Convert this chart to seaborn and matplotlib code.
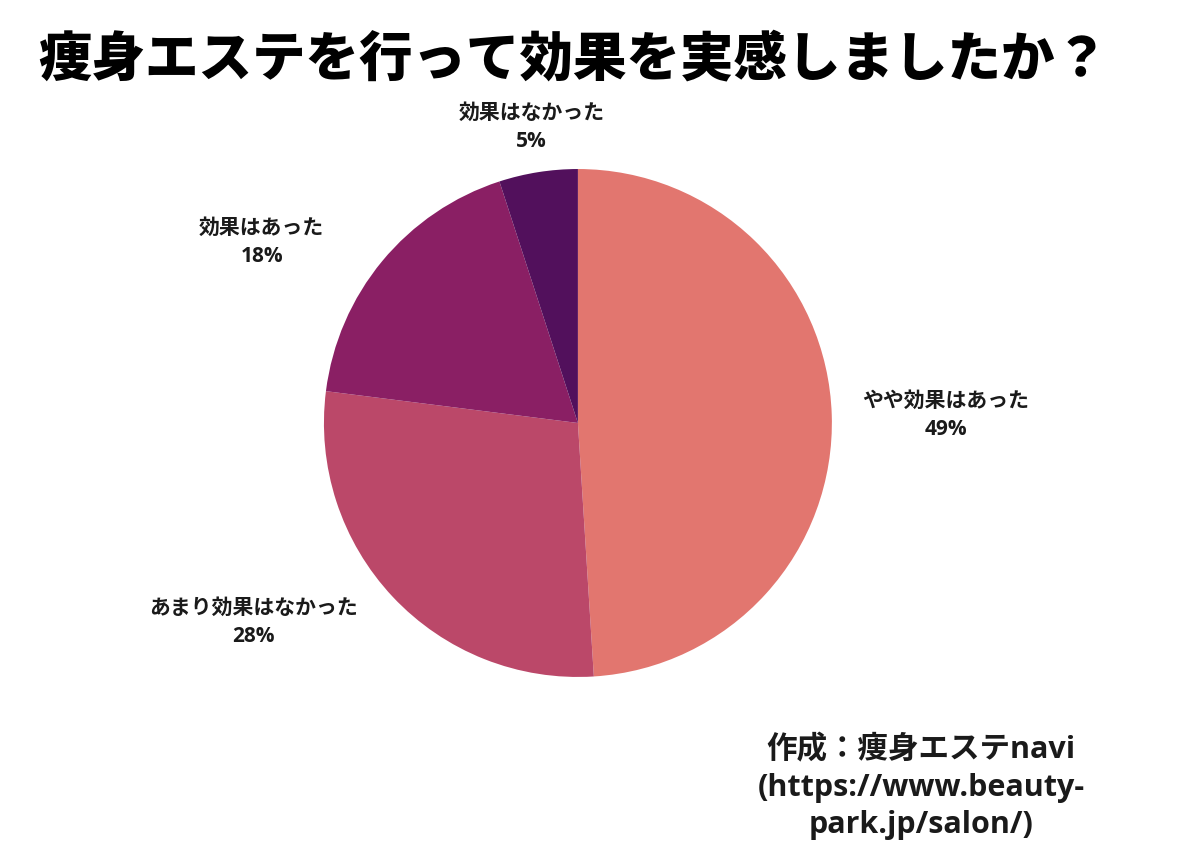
import numpy as np
import seaborn as sns
import matplotlib.pyplot as plt

sns.set_theme(style='white')
plt.rcParams['font.family'] = ['Open Sans', 'Noto Sans CJK JP', 'DejaVu Sans']

title = '痩身エステを行って効果を実感しましたか？'
labels = ['やや効果はあった', 'あまり効果はなかった', '効果はあった', '効果はなかった']
shares = [49, 28, 18, 5]
colors = ['#E2766F', '#BB4869', '#8A1F64', '#52105C']
credit = '作成：痩身エステnavi\n(https://www.beauty-\npark.jp/salon/)'

# label anchor points in figure fraction (placed by hand like the original)
label_pos = [(0.799, 0.516), (0.214, 0.275), (0.221, 0.717), (0.449, 0.851)]

fig = plt.figure(figsize=(11.84, 8.58), dpi=100)
ax = fig.add_axes([0.2736, 0.211, 0.429, 0.592])
ax.pie(shares, colors=colors, startangle=90, counterclock=False,
       wedgeprops=dict(linewidth=0), radius=1)
ax.set_xlim(-1, 1)
ax.set_ylim(-1, 1)
ax.set_aspect('equal')
ax.axis('off')

for lab, val, (x, y) in zip(labels, shares, label_pos):
    fig.text(x, y, f'{lab}\n{val}%', ha='center', va='center',
             fontsize=15, fontweight='bold', color='#1a1a1a', linespacing=1.45)

fig.text(0.032, 0.93, title, ha='left', va='center', fontsize=38.5,
         fontweight='heavy', color='black', family=['Noto Sans CJK JP'])
fig.text(0.778, 0.082, credit, ha='center', va='center', fontsize=22,
         fontweight='bold', color='#1a1a1a', linespacing=1.3)

plt.savefig('out.png', dpi=100)
